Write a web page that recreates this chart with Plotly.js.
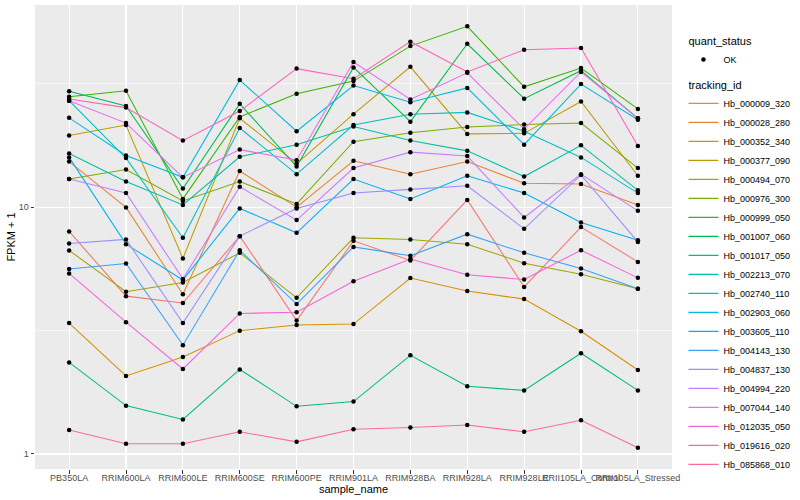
<!DOCTYPE html>
<html>
<head>
<meta charset="utf-8">
<script src="https://cdn.plot.ly/plotly-3.0.1.min.js"></script>
<style>html,body{margin:0;padding:0;background:#fff;}#chart{width:800px;height:500px;}</style>
</head>
<body>
<div id="chart"></div>
<script>
// Data
var sample_name = ["PB350LA","RRIM600LA","RRIM600LE","RRIM600SE","RRIM600PE","RRIM901LA","RRIM928BA","RRIM928LA","RRIM928LE","RRII105LA_Control","RRII105LA_Stressed"];

var tracking_id = ["Hb_000009_320","Hb_000028_280","Hb_000352_340","Hb_000377_090","Hb_000494_070","Hb_000976_300","Hb_000999_050","Hb_001007_060","Hb_001017_050","Hb_002213_070","Hb_002740_110","Hb_002903_060","Hb_003605_110","Hb_004143_130","Hb_004837_130","Hb_004994_220","Hb_007044_140","Hb_012035_050","Hb_019616_020","Hb_085868_010"];

var Hb_000009_320 = [7.97, 4.36, 4.09, 7.63, 3.47, 7.30, 6.08, 10.7, 4.75, 8.30, 6.00];
var Hb_000028_280 = [15.3, 9.97, 4.44, 14.0, 10.0, 15.4, 13.6, 15.3, 12.5, 12.4, 10.2];
var Hb_000352_340 = [3.39, 2.07, 2.47, 3.16, 3.33, 3.36, 5.16, 4.57, 4.24, 3.14, 2.19];
var Hb_000377_090 = [19.5, 21.5, 6.20, 22.9, 15.0, 23.8, 37.0, 19.8, 19.9, 26.8, 13.4];
var Hb_000494_070 = [6.68, 4.54, 4.95, 6.53, 4.29, 7.51, 7.40, 7.08, 5.93, 5.35, 4.67];
var Hb_000976_300 = [13.0, 14.2, 10.6, 12.7, 10.3, 18.4, 20.0, 21.1, 21.6, 21.9, 14.4];
var Hb_000999_050 = [28.0, 29.6, 10.8, 23.2, 28.8, 32.4, 44.9, 54.0, 30.7, 36.6, 25.0];
var Hb_001007_060 = [29.5, 25.7, 11.9, 26.2, 14.6, 36.8, 22.2, 45.9, 27.5, 35.7, 22.9];
var Hb_001017_050 = [2.35, 1.57, 1.38, 2.20, 1.56, 1.63, 2.51, 1.88, 1.81, 2.56, 1.81];
var Hb_002213_070 = [16.5, 12.7, 10.2, 16.0, 17.9, 21.2, 18.6, 16.9, 13.3, 17.8, 11.7];
var Hb_002740_110 = [27.0, 15.8, 7.51, 20.9, 13.6, 21.5, 23.8, 24.2, 20.3, 15.9, 11.4];
var Hb_002903_060 = [23.0, 16.2, 13.2, 32.7, 20.3, 31.1, 26.6, 30.4, 17.9, 31.5, 22.6];
var Hb_003605_110 = [15.9, 7.08, 5.07, 9.88, 7.87, 13.0, 10.8, 13.4, 11.4, 8.67, 7.35];
var Hb_004143_130 = [5.62, 5.91, 2.76, 6.69, 4.05, 6.90, 6.35, 7.77, 6.53, 5.64, 4.67];
var Hb_004837_130 = [7.13, 7.40, 3.39, 7.63, 9.88, 11.4, 11.8, 12.2, 8.17, 13.5, 7.23];
var Hb_004994_220 = [13.0, 11.4, 5.12, 12.1, 8.86, 14.4, 16.7, 16.1, 9.08, 13.6, 9.66];
var Hb_007044_140 = [27.0, 21.9, 13.2, 17.1, 15.5, 38.7, 27.3, 35.0, 20.7, 35.3, 22.9];
var Hb_012035_050 = [5.39, 3.42, 2.21, 3.71, 3.75, 5.01, 6.16, 5.32, 5.09, 6.69, 5.17];
var Hb_019616_020 = [27.4, 25.3, 18.6, 24.5, 36.4, 33.1, 46.8, 35.3, 43.4, 44.1, 17.7];
var Hb_085868_010 = [1.25, 1.10, 1.10, 1.23, 1.12, 1.26, 1.28, 1.31, 1.23, 1.37, 1.06];

var series_values = [Hb_000009_320, Hb_000028_280, Hb_000352_340, Hb_000377_090, Hb_000494_070, Hb_000976_300, Hb_000999_050, Hb_001007_060, Hb_001017_050, Hb_002213_070, Hb_002740_110, Hb_002903_060, Hb_003605_110, Hb_004143_130, Hb_004837_130, Hb_004994_220, Hb_007044_140, Hb_012035_050, Hb_019616_020, Hb_085868_010];

var colors = ["#F8766D","#EA8331","#D89000","#C09B00","#A3A500","#7CAE00","#39B600","#00BB4E","#00BF7D","#00C1A3","#00BFC4","#00BAE0","#00B0F6","#35A2FF","#9590FF","#C77CFF","#E76BF3","#FA62DB","#FF62BC","#FF6C91"];

var y_ticks = [1, 10];
var y_tick_labels = ['1', '10'];
var y_minor = [3.1623, 31.623];

var traces = [];
var allX = [], allY = [];
for (var i = 0; i < tracking_id.length; i++) {
  traces.push({
    type: 'scatter', mode: 'lines',
    x: sample_name, y: series_values[i],
    name: tracking_id[i],
    line: {color: colors[i], width: 1.05},
    legendgroup: 'tracking_id',
    legendgrouptitle: {text: 'tracking_id', font: {size: 11, color: '#000'}},
    legendrank: 100 + i
  });
  for (var j = 0; j < sample_name.length; j++) { allX.push(sample_name[j]); allY.push(series_values[i][j]); }
}
traces.push({
  type: 'scatter', mode: 'markers',
  x: allX, y: allY, name: 'OK',
  marker: {color: '#000000', size: 4.5, symbol: 'circle'},
  legendgroup: 'quant_status',
  legendgrouptitle: {text: 'quant_status', font: {size: 11, color: '#000'}},
  legendrank: 1
});

var layout = {
  width: 800, height: 500,
  margin: {l: 35, r: 117, t: 5, b: 31.3},
  paper_bgcolor: '#FFFFFF',
  plot_bgcolor: '#EBEBEB',
  font: {family: 'Liberation Sans, Arial, Helvetica, sans-serif', size: 9, color: '#4D4D4D'},
  showlegend: true,
  xaxis: {
    type: 'category',
    range: [-0.6, 10.6],
    showgrid: true, gridcolor: '#FFFFFF', gridwidth: 1.1,
    zeroline: false, showline: false,
    ticks: 'outside', ticklen: 3.5, tickcolor: '#333333', tickwidth: 1,
    tickangle: 0,
    ticklabelstandoff: -3,
    tickfont: {size: 9, color: '#4D4D4D'},
    title: {text: 'sample_name', font: {size: 11, color: '#000000'}, standoff: 0}
  },
  yaxis: {
    type: 'log',
    range: [-0.0608, 1.8188],
    tickvals: y_ticks, ticktext: y_tick_labels,
    showgrid: true, gridcolor: '#FFFFFF', gridwidth: 1.1,
    minor: {tickvals: y_minor, showgrid: true, gridcolor: '#FFFFFF', gridwidth: 0.55, ticks: ''},
    zeroline: false, showline: false,
    ticks: 'outside', ticklen: 3.5, tickcolor: '#333333', tickwidth: 1,
    tickfont: {size: 9, color: '#4D4D4D'},
    title: {text: 'FPKM + 1', font: {size: 11, color: '#000000'}, standoff: 0}
  },
  legend: {
    x: 1.018, xanchor: 'left', y: 0.955, yanchor: 'top',
    bgcolor: '#FFFFFF',
    font: {size: 9, color: '#000000'},
    tracegroupgap: 6,
    itemwidth: 30
  }
};

Plotly.newPlot('chart', traces, layout, {displayModeBar: false, staticPlot: true});
</script>
</body>
</html>
